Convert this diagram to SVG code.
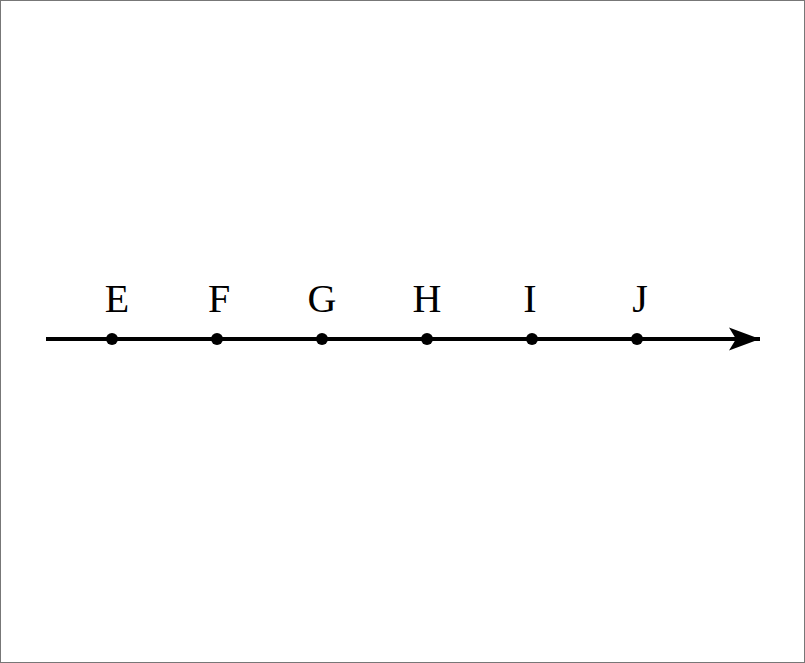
<svg xmlns="http://www.w3.org/2000/svg" width="805" height="663" viewBox="0 0 805 663">
<style>
.lbl{font-family:"Liberation Serif","DejaVu Serif",serif;font-size:40px;fill:#000;text-anchor:middle}
.dot{fill:#000}
</style>
<defs>
<marker id="arr" markerUnits="userSpaceOnUse" markerWidth="34" markerHeight="28" refX="31" refY="14" orient="auto">
<path d="M0,2.5 L31,14 L0,25.5 L7,14 Z" fill="#000"/>
</marker>
</defs>
<rect x="0.5" y="0.5" width="804" height="662" fill="#fff" stroke="#777" stroke-width="1"/>
<g id="connectors">
<line x1="46" y1="339" x2="760" y2="339" stroke="#000" stroke-width="4" marker-end="url(#arr)"/>
</g>
<g id="E"><circle class="dot" cx="112" cy="339" r="6"/><text class="lbl" x="117" y="312">E</text></g>
<g id="F"><circle class="dot" cx="217" cy="339" r="6"/><text class="lbl" x="219" y="312">F</text></g>
<g id="G"><circle class="dot" cx="322" cy="339" r="6"/><text class="lbl" x="322" y="312">G</text></g>
<g id="H"><circle class="dot" cx="427" cy="339" r="6"/><text class="lbl" x="427" y="312">H</text></g>
<g id="I"><circle class="dot" cx="532" cy="339" r="6"/><text class="lbl" x="530" y="312">I</text></g>
<g id="J"><circle class="dot" cx="637" cy="339" r="6"/><text class="lbl" x="640" y="312">J</text></g>
</svg>
